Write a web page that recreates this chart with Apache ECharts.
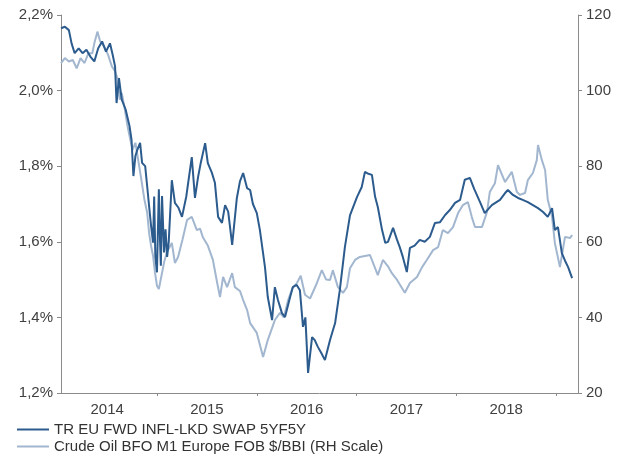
<!DOCTYPE html>
<html>
<head>
<meta charset="utf-8">
<script src="https://cdn.jsdelivr.net/npm/echarts@6/dist/echarts.min.js"></script>
<style>
html,body{margin:0;padding:0;background:#fff;}
#chart{width:618px;height:456px;}
</style>
</head>
<body>
<div id="chart"></div>
<script>
// Decimal-year positions and values
const swapYears = [2014.037,2014.076,2014.116,2014.143,2014.174,2014.214,2014.253,2014.292,2014.331,2014.371,2014.410,2014.449,2014.488,2014.528,2014.555,2014.579,2014.594,2014.618,2014.646,2014.685,2014.724,2014.744,2014.763,2014.783,2014.803,2014.830,2014.850,2014.881,2014.901,2014.920,2014.940,2014.960,2014.971,2014.983,2014.999,2015.018,2015.030,2015.038,2015.050,2015.070,2015.085,2015.101,2015.117,2015.148,2015.179,2015.215,2015.250,2015.293,2015.348,2015.380,2015.411,2015.439,2015.482,2015.509,2015.549,2015.580,2015.612,2015.651,2015.682,2015.713,2015.753,2015.800,2015.831,2015.863,2015.902,2015.933,2015.961,2016.000,2016.031,2016.082,2016.110,2016.153,2016.181,2016.212,2016.251,2016.283,2016.334,2016.361,2016.400,2016.432,2016.463,2016.487,2016.514,2016.554,2016.581,2016.612,2016.648,2016.683,2016.734,2016.785,2016.832,2016.883,2016.934,2017.005,2017.052,2017.084,2017.119,2017.154,2017.186,2017.213,2017.256,2017.288,2017.315,2017.366,2017.406,2017.433,2017.464,2017.504,2017.535,2017.582,2017.633,2017.684,2017.735,2017.786,2017.837,2017.888,2017.935,2017.987,2018.038,2018.085,2018.136,2018.179,2018.238,2018.285,2018.356,2018.438,2018.489,2018.517,2018.568,2018.619,2018.666,2018.717,2018.768,2018.819,2018.870,2018.917,2018.960,2018.988,2019.019,2019.058,2019.090,2019.121,2019.161];
const swapValues = [2.165,2.169,2.160,2.125,2.099,2.112,2.099,2.108,2.090,2.077,2.112,2.130,2.103,2.125,2.095,2.064,1.967,2.033,1.976,1.950,1.906,1.870,1.774,1.827,1.844,1.862,1.809,1.800,1.747,1.695,1.642,1.598,1.720,1.560,1.519,1.739,1.600,1.537,1.721,1.572,1.633,1.560,1.600,1.763,1.703,1.690,1.666,1.720,1.824,1.716,1.771,1.810,1.861,1.808,1.783,1.756,1.666,1.650,1.697,1.680,1.592,1.716,1.760,1.782,1.742,1.737,1.700,1.676,1.631,1.533,1.454,1.393,1.480,1.446,1.412,1.401,1.454,1.480,1.486,1.472,1.375,1.400,1.253,1.348,1.340,1.322,1.305,1.287,1.340,1.385,1.472,1.586,1.670,1.719,1.745,1.785,1.780,1.777,1.719,1.692,1.631,1.597,1.600,1.637,1.605,1.586,1.560,1.520,1.584,1.590,1.605,1.600,1.613,1.650,1.652,1.671,1.684,1.703,1.711,1.764,1.769,1.740,1.705,1.676,1.697,1.711,1.729,1.737,1.724,1.716,1.711,1.705,1.697,1.689,1.679,1.666,1.689,1.631,1.639,1.570,1.550,1.533,1.504];

const oilYears = [2014.037,2014.076,2014.116,2014.155,2014.194,2014.233,2014.273,2014.312,2014.351,2014.371,2014.402,2014.430,2014.469,2014.508,2014.547,2014.579,2014.606,2014.626,2014.646,2014.677,2014.704,2014.732,2014.755,2014.783,2014.810,2014.842,2014.873,2014.901,2014.920,2014.940,2014.960,2014.979,2014.999,2015.018,2015.030,2015.070,2015.097,2015.148,2015.179,2015.211,2015.254,2015.301,2015.348,2015.399,2015.431,2015.458,2015.509,2015.560,2015.603,2015.631,2015.662,2015.702,2015.753,2015.780,2015.831,2015.863,2015.902,2015.933,2016.000,2016.063,2016.110,2016.181,2016.232,2016.271,2016.314,2016.361,2016.400,2016.440,2016.483,2016.534,2016.593,2016.652,2016.695,2016.734,2016.762,2016.813,2016.864,2016.903,2016.934,2016.985,2017.033,2017.135,2017.213,2017.264,2017.315,2017.354,2017.406,2017.484,2017.535,2017.606,2017.657,2017.704,2017.767,2017.818,2017.865,2017.916,2017.967,2018.018,2018.065,2018.116,2018.155,2018.187,2018.257,2018.308,2018.336,2018.387,2018.418,2018.489,2018.556,2018.607,2018.638,2018.689,2018.717,2018.768,2018.807,2018.819,2018.858,2018.890,2018.917,2018.960,2018.988,2019.039,2019.090,2019.141,2019.161];
const oilValues = [107.3,108.6,107.7,108.1,105.9,108.6,107.3,109.9,109.9,112.5,115.6,113.0,111.7,109.5,106.4,105.1,102.9,97.6,99.4,95.0,90.6,87.0,84.4,86.2,81.8,76.5,71.2,67.7,62.4,58.9,56.3,51.9,48.4,47.5,47.2,54.5,57.2,59.7,54.4,56.0,60.5,65.8,66.6,63.1,63.5,61.3,59.0,55.2,49.1,45.4,50.7,48.0,51.7,48.0,47.0,44.6,42.0,38.5,35.9,29.5,34.0,39.3,41.2,40.0,44.6,48.0,49.0,51.0,46.0,45.0,48.5,52.5,50.0,49.9,52.5,48.0,46.5,48.0,53.0,55.2,56.0,56.5,51.2,55.2,53.5,51.7,49.9,46.5,49.1,50.7,53.3,55.2,57.8,58.6,63.1,62.3,63.9,67.6,69.7,70.5,66.6,63.9,63.9,67.9,73.2,75.5,80.3,75.8,78.5,73.2,72.4,72.9,76.3,78.2,81.6,85.6,81.6,79.0,71.1,66.6,59.7,53.3,61.3,61.0,61.8];

const yearTicks = [2015, 2016, 2017, 2018, 2019];
const yearLabelPos = [2014.5, 2015.5, 2016.5, 2017.5, 2018.5];
const seriesNames = ['TR EU FWD INFL-LKD SWAP 5YF5Y', 'Crude Oil BFO M1 Europe FOB $/BBI (RH Scale)'];

const zip = (xs, ys) => xs.map((x, i) => [x, ys[i]]);
const font = "'Liberation Sans', Arial, sans-serif";
const axisColor = '#8a8a8a';
const labelColor = '#404040';
const fs = 15;
const legendBase = {
  left: 12, icon: 'rect', itemWidth: 32, itemHeight: 2, itemGap: 0,
  selectedMode: false,
  textStyle: { fontSize: fs, color: '#333', fontFamily: font }
};

const chart = echarts.init(document.getElementById('chart'));
chart.setOption({
  animation: false,
  backgroundColor: '#fff',
  textStyle: { fontFamily: font },
  grid: { left: 61, right: 40, top: 15, bottom: 63 },
  legend: [
    Object.assign({}, legendBase, { top: 417, data: [seriesNames[0]] }),
    Object.assign({}, legendBase, { top: 434, data: [seriesNames[1]] })
  ],
  xAxis: {
    type: 'value', min: 2014.037, max: 2019.22,
    axisLine: { show: true, lineStyle: { color: axisColor, width: 1 } },
    axisTick: { show: true, customValues: yearTicks, length: 3, lineStyle: { color: axisColor } },
    axisLabel: { customValues: yearLabelPos, formatter: v => String(Math.floor(v)), fontSize: fs, color: labelColor, margin: 9, fontFamily: font },
    splitLine: { show: false }
  },
  yAxis: [
    {
      type: 'value', min: 1.2, max: 2.2, interval: 0.2, position: 'left',
      axisLine: { show: true, lineStyle: { color: axisColor } },
      axisTick: { show: true, length: 4, lineStyle: { color: axisColor } },
      axisLabel: { formatter: v => v.toFixed(1).replace('.', ',') + '%', fontSize: fs, color: labelColor, margin: 8, fontFamily: font },
      splitLine: { show: false }
    },
    {
      type: 'value', min: 20, max: 120, interval: 20, position: 'right',
      axisLine: { show: true, lineStyle: { color: axisColor } },
      axisTick: { show: true, length: 4, lineStyle: { color: axisColor } },
      axisLabel: { fontSize: fs, color: labelColor, margin: 8, fontFamily: font },
      splitLine: { show: false }
    }
  ],
  series: [
    {
      name: seriesNames[1], type: 'line', yAxisIndex: 1, symbol: 'none',
      data: zip(oilYears, oilValues),
      lineStyle: { color: '#a2b7cf', width: 2 }, itemStyle: { color: '#a2b7cf' }
    },
    {
      name: seriesNames[0], type: 'line', yAxisIndex: 0, symbol: 'none',
      data: zip(swapYears, swapValues),
      lineStyle: { color: '#2c5b8e', width: 2 }, itemStyle: { color: '#2c5b8e' }
    }
  ]
});
</script>
</body>
</html>
